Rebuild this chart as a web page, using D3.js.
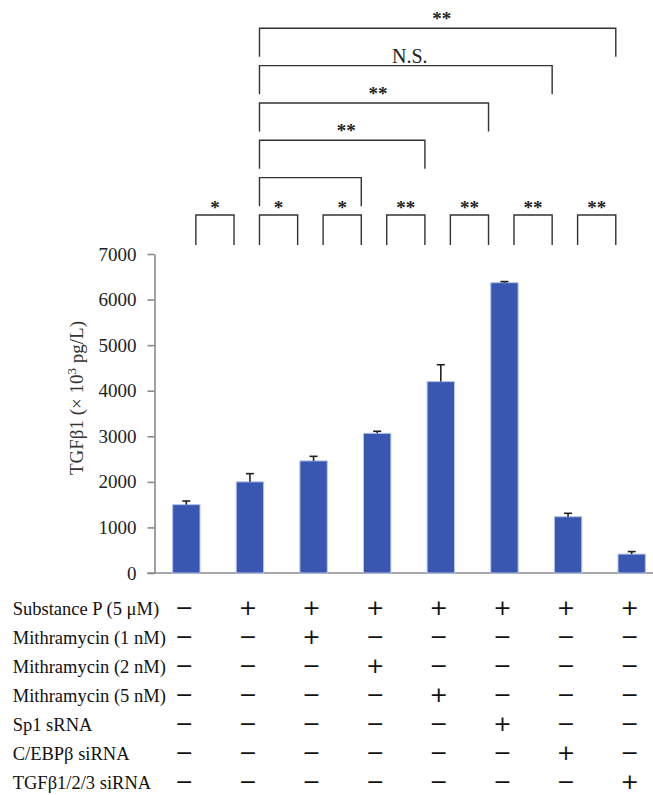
<!DOCTYPE html>
<html>
<head>
<meta charset="utf-8">
<script src="https://cdn.jsdelivr.net/npm/d3@7"></script>
<style>
  body { margin: 0; background: #fff; }
  svg { display: block; }
</style>
</head>
<body>
<div id="chart"></div>
<script>
// data
var groups = [0, 1, 2, 3, 4, 5, 6, 7];
var means = [1500, 2000, 2460, 3065, 4200, 6370, 1235, 415];
var errs = [80, 180, 100, 45, 370, 25, 75, 55];
var yTicks = [0, 1000, 2000, 3000, 4000, 5000, 6000, 7000];

var rowLabels = ["Substance P (5 \u03bcM)", "Mithramycin (1 nM)", "Mithramycin (2 nM)",
    "Mithramycin (5 nM)", "Sp1 sRNA", "C/EBP\u03b2 siRNA", "TGF\u03b21/2/3 siRNA"];
var signs = [
    "-+++++++",
    "--+-----",
    "---+----",
    "----+---",
    "-----+--",
    "------+-",
    "-------+"
];

// comparisons: [group a, group b, label]
var smallBrackets = [[0, 1, "*"], [1, 2, "*"], [2, 3, "*"], [3, 4, "**"], [4, 5, "**"], [5, 6, "**"], [6, 7, "**"]];
var tallBrackets = [[1, 3, ""], [1, 4, "**"], [1, 5, "**"], [1, 6, "N.S."], [1, 7, "**"]];

var svgWidth = 653;
var svgHeight = 795;
var serif = "'Liberation Serif', 'Times New Roman', serif";

var svg = d3.select("#chart")
    .append("svg")
    .attr("width", svgWidth)
    .attr("height", svgHeight);

//scales
var x = d3.scaleBand()
    .domain(groups)
    .range([154.5, 663.5])
    .paddingInner(0.57)
    .paddingOuter(0.285);

var y = d3.scaleLinear()
    .domain([0, 7000])
    .range([573, 254]);

var level = d3.scaleLinear()
    .domain([0, 5])
    .range([215, 28.3]);

var xc = i => x(i) + x.bandwidth() / 2;

//y axis
var leftAxis = d3.axisLeft(y)
    .tickValues(yTicks)
    .tickFormat(d3.format("d"))
    .tickSize(7)
    .tickSizeOuter(0)
    .tickPadding(11);

var yAxis = svg.append("g")
    .attr("transform", `translate(${x.range()[0]},0)`)
    .call(leftAxis);
yAxis.selectAll("path, line").attr("stroke", "#8a8a8a").attr("stroke-width", 1.6);
yAxis.selectAll("text")
    .attr("font-family", serif)
    .attr("font-size", 19)
    .attr("fill", "#222");

//x axis line
svg.append("line")
    .attr("x1", x.range()[0] - 7)
    .attr("x2", svgWidth)
    .attr("y1", y(0))
    .attr("y2", y(0))
    .attr("stroke", "#8a8a8a")
    .attr("stroke-width", 1.6);

//y label
svg.append("text")
    .attr("transform", `translate(83,398) rotate(-90)`)
    .attr("text-anchor", "middle")
    .attr("font-family", serif)
    .attr("font-size", 19)
    .attr("fill", "#333")
    .call(t => {
        t.append("tspan").text("TGF\u03b21 (\u00d7 10");
        t.append("tspan").attr("dy", -7).attr("font-size", 13).text("3");
        t.append("tspan").attr("dy", 7).text(" pg/L)");
    });

//bars
svg.selectAll("rect.bar")
    .data(groups)
    .enter()
    .append("rect")
    .attr("class", "bar")
    .attr("x", d => x(d))
    .attr("width", x.bandwidth())
    .attr("y", d => y(means[d]))
    .attr("height", d => y(0) - y(means[d]))
    .attr("fill", "#3957b0")
    .attr("stroke", "#b4c2ee")
    .attr("stroke-width", 1);

//error bars
var err = svg.append("g").attr("stroke", "#222").attr("stroke-width", 1.6);
err.selectAll("line.v")
    .data(groups)
    .enter()
    .append("line")
    .attr("x1", d => xc(d))
    .attr("x2", d => xc(d))
    .attr("y1", d => y(means[d]))
    .attr("y2", d => y(means[d] + errs[d]));
err.selectAll("line.cap")
    .data(groups)
    .enter()
    .append("line")
    .attr("x1", d => xc(d) - 4)
    .attr("x2", d => xc(d) + 4)
    .attr("y1", d => y(means[d] + errs[d]))
    .attr("y2", d => y(means[d] + errs[d]));

//brackets
var step = x.step();
function bracket(a, b, lv, label) {
    var x1 = xc(a) + 0.15 * step;
    var x2 = xc(b) - 0.25 * step;
    var top = level(lv);
    var drop = lv === 0 ? 30 : 28.5;
    svg.append("path")
        .attr("d", `M${x1},${top + drop}V${top}H${x2}V${top + drop}`)
        .attr("fill", "none")
        .attr("stroke", "#333")
        .attr("stroke-width", 1.4);
    if (label) {
        var ns = label === "N.S.";
        svg.append("text")
            .attr("x", (x1 + x2) / 2 + (lv === 0 ? 0 : 4))
            .attr("y", top + (ns ? -2.5 : (lv === 0 ? -1 : -3)))
            .attr("text-anchor", "middle")
            .attr("font-family", serif)
            .attr("font-size", ns ? 20 : 19)
            .attr("font-weight", ns ? "normal" : "bold")
            .attr("fill", "#222")
            .text(label);
    }
}
smallBrackets.forEach(d => bracket(d[0], d[1], 0, d[2]));
tallBrackets.forEach((d, i) => bracket(d[0], d[1], i + 1, d[2]));

//treatment table
var rowY = d3.scaleLinear().domain([0, 6]).range([614.5, 789]);
var rows = svg.selectAll("g.row")
    .data(rowLabels)
    .enter()
    .append("g")
    .attr("class", "row");
rows.append("text")
    .attr("x", 12.7)
    .attr("y", (d, i) => rowY(i))
    .attr("font-family", serif)
    .attr("font-size", 18.5)
    .attr("fill", "#111")
    .text(d => d);
rows.each(function(d, i) {
    d3.select(this).selectAll("text.sign")
        .data(signs[i].split(""))
        .enter()
        .append("text")
        .attr("class", "sign")
        .attr("x", (s, j) => xc(j) - 2)
        .attr("y", rowY(i))
        .attr("text-anchor", "middle")
        .attr("font-family", "'DejaVu Sans', sans-serif")
        .attr("font-size", 22)
        .attr("fill", "#111")
        .text(s => s === "+" ? "+" : "\u2212");
});
</script>
</body>
</html>
